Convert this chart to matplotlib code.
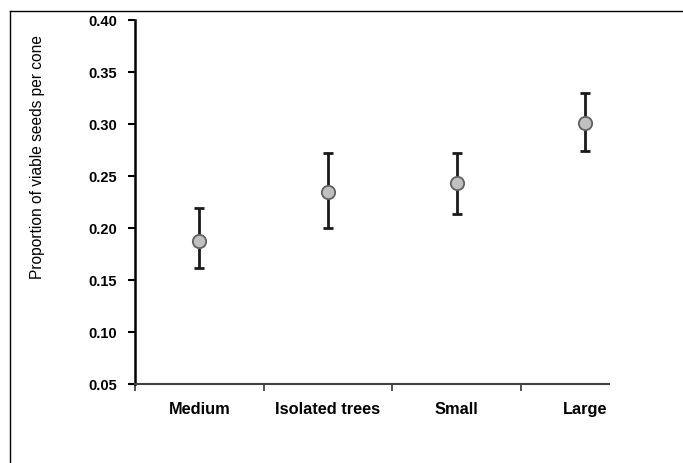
import matplotlib
matplotlib.use("Agg")
import matplotlib.pyplot as plt
from matplotlib.lines import Line2D

plt.rcParams['font.family'] = ['Liberation Sans', 'DejaVu Sans']

# proportion of viable seeds per cone, by stand type
sites = ['Medium', 'Isolated trees', 'Small', 'Large']
means = [0.1875, 0.2345, 0.243, 0.301]
upper = [0.219, 0.272, 0.272, 0.330]
lower = [0.1615, 0.200, 0.2135, 0.274]

err_lo = [m - l for m, l in zip(means, lower)]
err_hi = [u - m for m, u in zip(means, upper)]
xpos = list(range(len(sites)))

fig = plt.figure(figsize=(6.83, 4.63), dpi=100)
ax = fig.add_axes([135 / 683, 1 - 384 / 463, (609 - 135) / 683, 364 / 463])

ax.errorbar(xpos, means, yerr=[err_lo, err_hi], fmt='none', ecolor='#1a1a1a',
            elinewidth=2, capsize=3.6, capthick=2, zorder=2)
ax.plot(xpos, means, 'o', ms=9.6, mfc='#c0c0c0', mec='#606060', mew=1.3, zorder=3)

ax.set_xlim(-0.5, 3.183)
ax.set_ylim(0.05, 0.40)
ax.set_yticks([0.05, 0.10, 0.15, 0.20, 0.25, 0.30, 0.35, 0.40])
ax.set_yticklabels(['%.2f' % v for v in ax.get_yticks()], fontsize=10.5, fontweight='bold')

# category boundaries get tick marks, names sit between them
ax.set_xticks([-0.5, 0.5, 1.5, 2.5])
ax.set_xticklabels([])
ax.set_xticks(xpos, minor=True)
ax.set_xticklabels(sites, minor=True, fontsize=11.8, fontweight='bold')
ax.tick_params(axis='x', which='minor', length=0, pad=13)
ax.tick_params(axis='x', which='major', direction='out', length=5, width=1.2, color='#333333')
ax.tick_params(axis='y', direction='out', length=5, width=1.5, pad=8, color='black')

for side in ['top', 'right']:
    ax.spines[side].set_visible(False)
ax.spines['left'].set_linewidth(1.8)
ax.spines['left'].set_color('black')
ax.spines['bottom'].set_linewidth(1.5)
ax.spines['bottom'].set_color('#404040')

fig.text(38 / 683, 1 - 157 / 463, 'Proportion of viable seeds per cone', rotation=90,
         ha='center', va='center', fontsize=11.2)

# outer frame (top and left edges visible)
fig.add_artist(Line2D([10 / 683, 1], [1 - 11 / 463] * 2, transform=fig.transFigure,
                      color='black', lw=1))
fig.add_artist(Line2D([10 / 683] * 2, [0, 1 - 11 / 463], transform=fig.transFigure,
                      color='black', lw=1))

fig.savefig('out.png', dpi=100)
